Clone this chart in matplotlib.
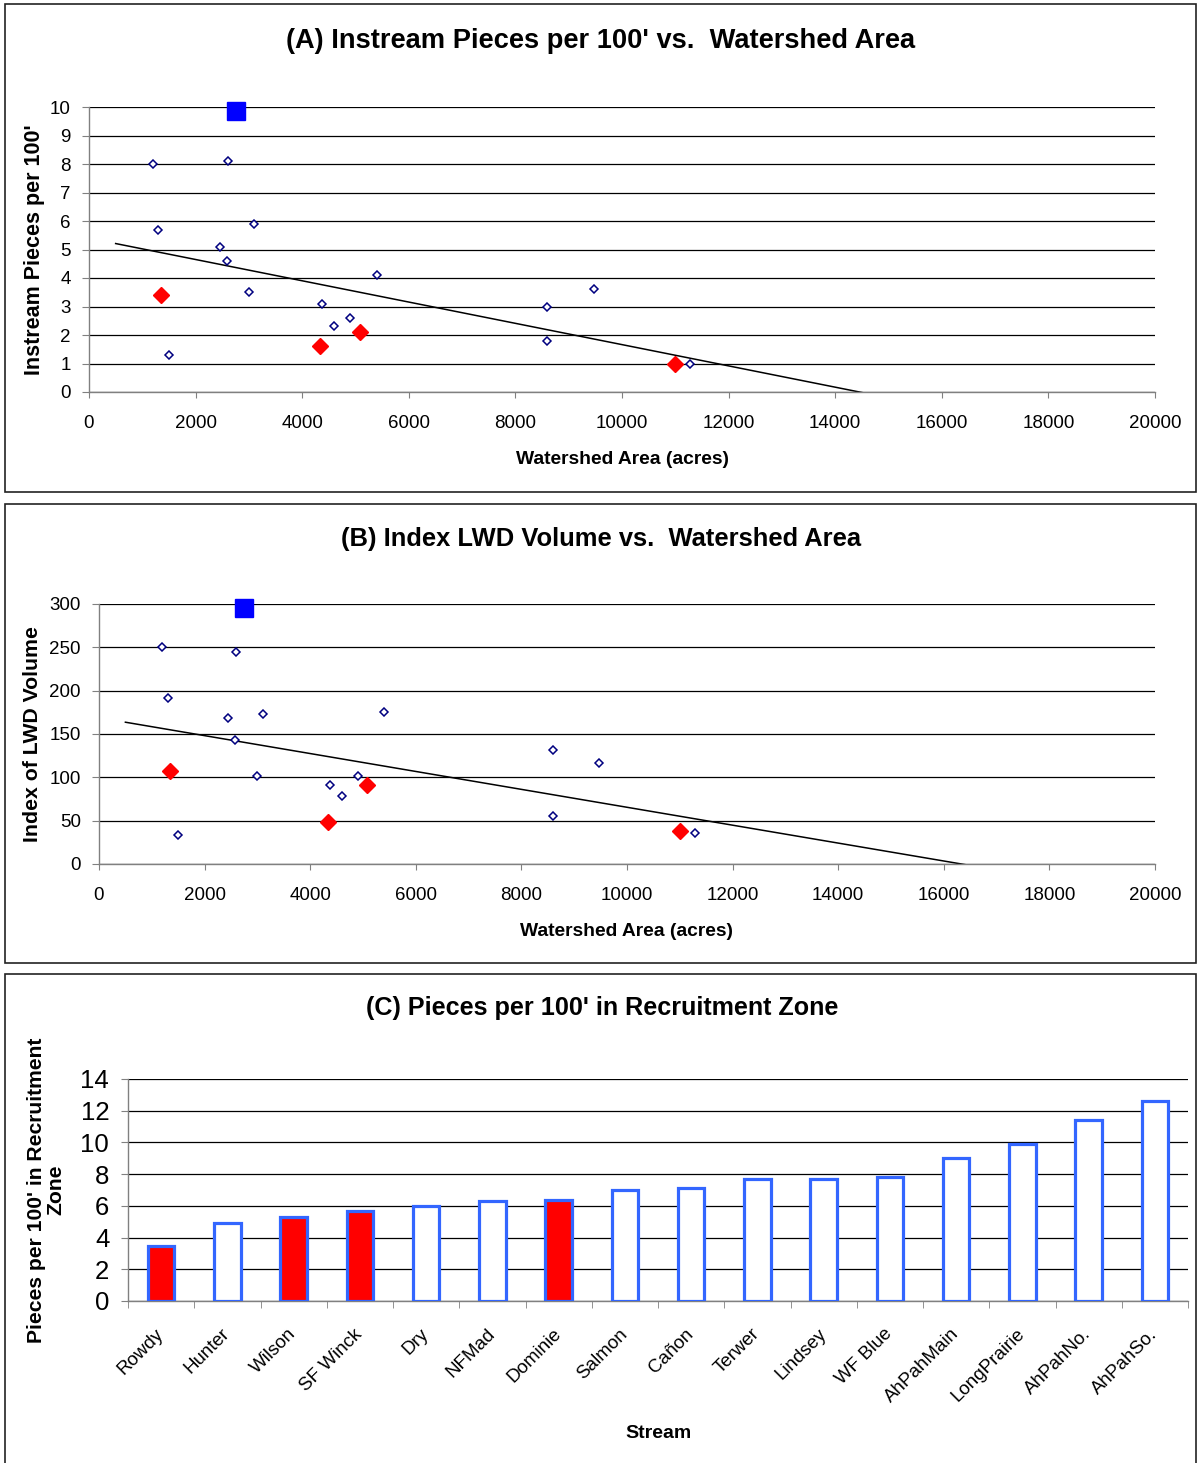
import numpy as np
import matplotlib.pyplot as plt
from matplotlib.patches import Rectangle

plt.rcParams['font.family'] = ['Liberation Sans', 'DejaVu Sans']

W, H = 1198, 1463

# streams plotted in (A) and (B)
area = [1200, 2600, 1300, 3100, 2450, 2580, 3000, 5400, 4380, 4900, 4600, 1500,
        8600, 8600, 9475, 11280]
pieces = [8.0, 8.1, 5.7, 5.9, 5.1, 4.6, 3.5, 4.1, 3.1, 2.6, 2.3, 1.3,
          3.0, 1.8, 3.6, 1.0]
volume = [250, 245, 192, 173, 169, 143, 102, 175, 91, 102, 78, 33,
          131, 55, 117, 36]

# highlighted (red) streams
red_area = [1350, 4340, 5080, 11000]
red_pieces = [3.4, 1.6, 2.1, 1.0]
red_volume = [107, 48, 91, 38]

# outlier (blue square), left out of the trend line
blue_area = [2750]
blue_pieces = [9.85]
blue_volume = [295]

trend_x = [500, 20000]

# (C) recruitment zone
streams = ['Rowdy', 'Hunter', 'Wilson', 'SF Winck', 'Dry', 'NFMad', 'Dominie',
           'Salmon', 'Cañon', 'Terwer', 'Lindsey', 'WF Blue', 'AhPahMain',
           'LongPrairie', 'AhPahNo.', 'AhPahSo.']
recruit = [3.5, 4.9, 5.3, 5.7, 6.0, 6.3, 6.4, 7.0, 7.1, 7.7, 7.7, 7.8, 9.0,
           9.9, 11.4, 12.6]
red_streams = ['Rowdy', 'Wilson', 'SF Winck', 'Dominie']


def px_axes(fig, l, t, r, b):
    return fig.add_axes([l / W, 1 - b / H, (r - l) / W, (b - t) / H])


def ftext(fig, x, y, s, **kw):
    fig.text(x / W, 1 - y / H, s, **kw)


def panel_box(fig, t, b):
    fig.patches.append(Rectangle((5 / W, 1 - b / H), 1191 / W, (b - t) / H,
                                 transform=fig.transFigure, fill=False,
                                 edgecolor='#222222', linewidth=1.2))


def style_axes(ax, yticks, ylim, ypad, xpad, tick_size):
    ax.set_ylim(ylim)
    ax.set_yticks(yticks)
    for y in yticks:
        ax.axhline(y, color='black', linewidth=0.9, zorder=0)
    for s in ['top', 'right']:
        ax.spines[s].set_visible(False)
    for s in ['left', 'bottom']:
        ax.spines[s].set_color('#808080')
        ax.spines[s].set_linewidth(1.0)
    ax.tick_params(axis='y', direction='out', length=5, color='#808080',
                   pad=ypad, labelsize=tick_size)
    ax.tick_params(axis='x', direction='out', length=4.5, color='#808080',
                   pad=xpad, labelsize=tick_size)


def scatter_panel(ax, yvals, red_y, blue_y):
    ax.plot(area, yvals, linestyle='none', marker='D', markersize=4.0,
            markerfacecolor='white', markeredgecolor='#000080',
            markeredgewidth=1.1, zorder=3)
    ax.plot(red_area, red_y, linestyle='none', marker='D', markersize=8.4,
            color='red', zorder=4)
    ax.plot(blue_area, blue_y, linestyle='none', marker='s', markersize=12.5,
            color='#0000FF', zorder=4, clip_on=False)
    fx = area + red_area
    fy = list(yvals) + list(red_y)
    k, c = np.polyfit(fx, fy, 1)
    tx = np.array(trend_x)
    ax.plot(tx, k * tx + c, color='black', linewidth=1.1, zorder=2)
    ax.set_xlim(0, 20000)
    ax.set_xticks(range(0, 20001, 2000))


fig = plt.figure(figsize=(W / 100, H / 100), dpi=100)

# ---- (A)
panel_box(fig, 4, 492)
axA = px_axes(fig, 89, 107, 1155, 392)
scatter_panel(axA, pieces, red_pieces, blue_pieces)
style_axes(axA, range(0, 11), (0, 10), 8, 12, 13.5)
ftext(fig, 601, 41, "(A) Instream Pieces per 100' vs.  Watershed Area",
      ha='center', va='center', fontsize=19.6, fontweight='bold')
ftext(fig, 622, 460, 'Watershed Area (acres)', ha='center', va='center',
      fontsize=13.9, fontweight='bold')
ftext(fig, 35, 250, "Instream Pieces per 100'", ha='center', va='center',
      rotation=90, fontsize=15.5, fontweight='bold')

# ---- (B)
panel_box(fig, 504, 963)
axB = px_axes(fig, 99, 604, 1155, 864)
scatter_panel(axB, volume, red_volume, blue_volume)
style_axes(axB, range(0, 301, 50), (0, 300), 8, 12, 13.5)
ftext(fig, 601, 539, '(B) Index LWD Volume vs.  Watershed Area',
      ha='center', va='center', fontsize=18.4, fontweight='bold')
ftext(fig, 627, 932, 'Watershed Area (acres)', ha='center', va='center',
      fontsize=13.9, fontweight='bold')
ftext(fig, 33, 734, 'Index of LWD Volume', ha='center', va='center',
      rotation=90, fontsize=15.3, fontweight='bold')

# ---- (C)
panel_box(fig, 974, 1475)
axC = px_axes(fig, 128, 1079, 1188, 1301)
x = np.arange(len(streams))
fills = ['red' if s in red_streams else 'white' for s in streams]
axC.bar(x, recruit, width=0.4, color=fills, edgecolor='#3366FF',
        linewidth=2.3, zorder=3)
axC.set_xlim(-0.5, len(streams) - 0.5)
style_axes(axC, range(0, 15, 2), (0, 14), 8.5, 0, 18.5)
axC.set_xticks(x)
axC.set_xticklabels(streams, rotation=45, ha='right', va='center',
                    rotation_mode='anchor', fontsize=13.5)
axC.tick_params(axis='x', which='major', length=0, pad=22)
axC.set_xticks(np.arange(-0.5, len(streams), 1.0), minor=True)
axC.tick_params(axis='x', which='minor', direction='out', length=5,
                color='#808080')
ftext(fig, 602, 1008, "(C) Pieces per 100' in Recruitment Zone",
      ha='center', va='center', fontsize=18.1, fontweight='bold')
ftext(fig, 658, 1433, 'Stream', ha='center', va='center',
      fontsize=14, fontweight='bold')
ftext(fig, 46, 1190, "Pieces per 100' in Recruitment\nZone", ha='center',
      va='center', rotation=90, fontsize=15.2, fontweight='bold',
      linespacing=1.05, multialignment='center')

fig.savefig('out.png', dpi=100)
